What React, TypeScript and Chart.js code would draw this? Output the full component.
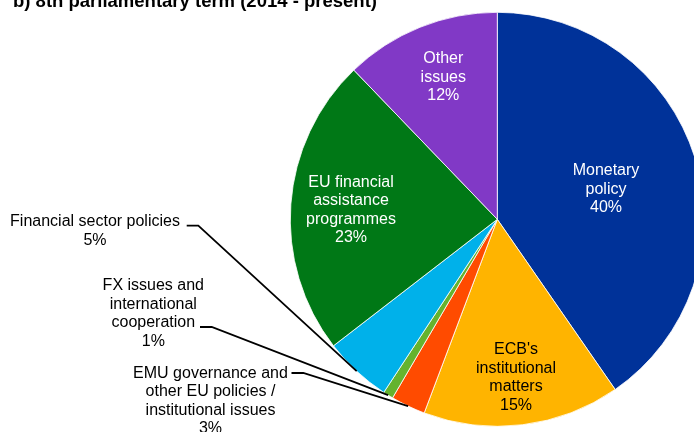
import React, { useEffect, useRef } from "react";
import { Chart, registerables } from "chart.js";

Chart.register(...registerables);

const TITLE = "b) 8th parliamentary term (2014 - present)";

const categories = [
  "Monetary policy",
  "ECB's institutional matters",
  "EMU governance and other EU policies / institutional issues",
  "FX issues and international cooperation",
  "Financial sector policies",
  "EU financial assistance programmes",
  "Other issues",
];
const shares = [40.4, 15.4, 2.7, 0.8, 5.3, 23.3, 12.2];
const percentLabels = ["40%", "15%", "3%", "1%", "5%", "23%", "12%"];
const labelLines = [
  ["Monetary", "policy"],
  ["ECB's", "institutional", "matters"],
  ["EMU governance and", "other EU policies /", "institutional issues"],
  ["FX issues and", "international", "cooperation"],
  ["Financial sector policies"],
  ["EU financial", "assistance", "programmes"],
  ["Other", "issues"],
];
const sliceColors = ["#003299", "#FFB400", "#FF4B00", "#65B32E", "#00B1EA", "#007816", "#8139C6"];

// layout (not data): label block centres and leader-line starts
const LAYOUT = [
  { x: 606, y: 171, color: "#ffffff" },
  { x: 516, y: 350, color: "#000000" },
  { x: 210.5, y: 373.3, color: "#000000", lead: [291.5, 303.3, 373] },
  { x: 153.3, y: 286, color: "#000000", lead: [200, 211.7, 327] },
  { x: 95, y: 221.7, color: "#000000", lead: [186.7, 198.3, 225.7] },
  { x: 351, y: 182.3, color: "#ffffff" },
  { x: 443.3, y: 59, color: "#ffffff" },
];
const FONT = "16px 'Liberation Sans', Arial, sans-serif";
const LINE_H = 18.4;

const labelPlugin = {
  id: "customLabels",
  afterDatasetsDraw(chart: any) {
    const ctx = chart.ctx;
    const meta = chart.getDatasetMeta(0);
    ctx.save();
    // title
    ctx.font = "bold 18.5px 'Liberation Sans', Arial, sans-serif";
    ctx.fillStyle = "#000";
    ctx.textAlign = "left";
    ctx.textBaseline = "alphabetic";
    ctx.fillText(TITLE, 13, 7);

    ctx.font = FONT;
    ctx.textAlign = "center";
    ctx.textBaseline = "middle";
    meta.data.forEach((arc: any, i: number) => {
      const L = LAYOUT[i];
      const lines = [...labelLines[i], percentLabels[i]];
      ctx.fillStyle = L.color;
      lines.forEach((t, k) => ctx.fillText(t, L.x, L.y + k * LINE_H));
      if (L.lead) {
        const p = arc.getProps(["x", "y", "startAngle", "endAngle", "outerRadius"], true);
        const mid = (p.startAngle + p.endAngle) / 2;
        const ex = p.x + Math.cos(mid) * p.outerRadius;
        const ey = p.y + Math.sin(mid) * p.outerRadius;
        ctx.strokeStyle = "#000";
        ctx.lineWidth = 1.8;
        ctx.beginPath();
        ctx.moveTo(L.lead[0], L.lead[2]);
        ctx.lineTo(L.lead[1], L.lead[2]);
        ctx.lineTo(ex, ey);
        ctx.stroke();
      }
    });
    ctx.restore();
  },
};

export default function App() {
  const ref = useRef<HTMLCanvasElement>(null);
  useEffect(() => {
    if (!ref.current) return;
    const chart = new Chart(ref.current, {
      type: "pie",
      data: {
        labels: categories,
        datasets: [
          {
            data: shares,
            backgroundColor: sliceColors,
            borderColor: "#ffffff",
            borderWidth: 0.8,
            hoverOffset: 0,
            offset: 0,
          },
        ],
      },
      options: {
        responsive: false,
        animation: false,
        events: [],
        layout: { padding: { left: 289.9, right: 15.3, top: 11.9, bottom: 13.3 } },
        plugins: { legend: { display: false }, tooltip: { enabled: false }, title: { display: false } },
      },
      plugins: [labelPlugin],
    });
    return () => chart.destroy();
  }, []);
  return (
    <div style={{ position: "absolute", left: 0, top: 0, width: 694, height: 432, overflow: "hidden", background: "#fff" }}>
      <canvas ref={ref} width={720} height={440} style={{ display: "block" }} />
    </div>
  );
}
